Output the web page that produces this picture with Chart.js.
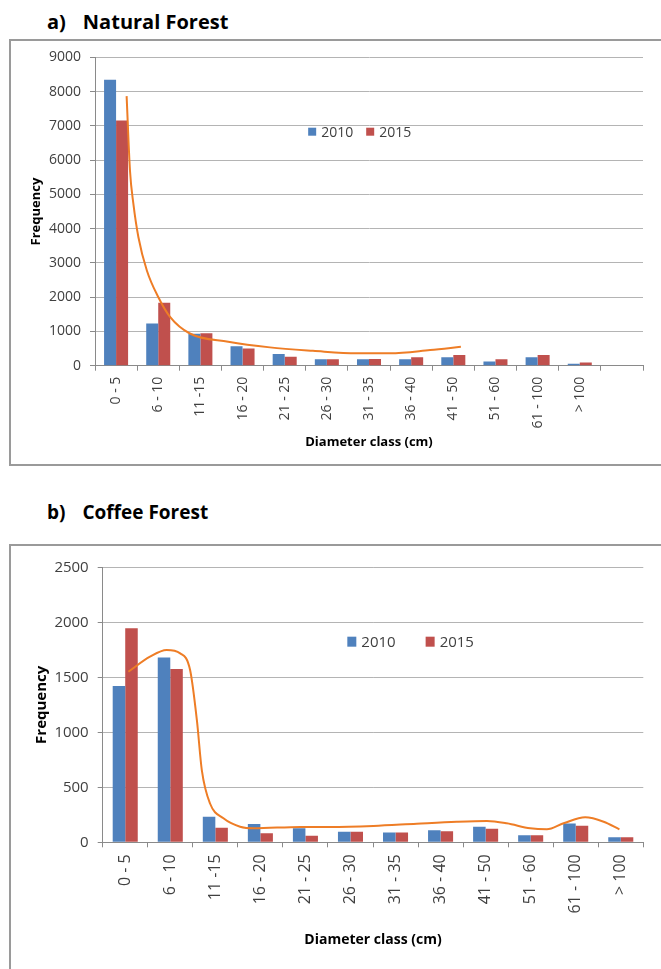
<!DOCTYPE html>
<html>
<head>
<meta charset="utf-8">
<script src="https://cdn.jsdelivr.net/npm/chart.js@4.4.1/dist/chart.umd.min.js"></script>
<style>
html,body{margin:0;padding:0;background:#fff;}
body{position:relative;width:661px;height:969px;overflow:hidden;font-family:"Open Sans",sans-serif;}
.title{position:absolute;left:47px;font-weight:700;font-size:20px;line-height:20px;color:#000;white-space:nowrap;}
.title span{margin-left:17px;}
.box{position:absolute;border:2px solid #9a9a9a;box-sizing:border-box;}
.cv{position:absolute;left:0;}
</style>
</head>
<body>
<div class="title" style="top:11.5px">a)<span>Natural Forest</span></div>
<div class="box" style="left:9px;top:39px;width:720px;height:427px"></div>
<div class="cv" style="top:40px;width:661px;height:425px"><canvas id="chartA"></canvas></div>

<div class="title" style="top:503px;font-size:19px;line-height:19px">b)<span>Coffee Forest</span></div>
<div class="box" style="left:9px;top:544px;width:720px;height:500px"></div>
<div class="cv" style="top:546px;width:661px;height:423px"><canvas id="chartB"></canvas></div>

<script>
// ---------- data ----------
const seriesNames = ['2010', '2015'];
const xTitle = 'Diameter class (cm)';
const yTitle = 'Frequency';

// a) Natural Forest
const naturalClasses = ['0 - 5','6 - 10','11 -15','16 - 20','21 - 25','26 - 30','31 - 35','36 - 40','41 - 50','51 - 60','61 - 100','> 100',''];
const natural2010 = [8350, 1230, 930, 570, 340, 190, 190, 185, 245, 120, 245, 55, null];
const natural2015 = [7160, 1840, 950, 505, 262, 190, 195, 244, 312, 190, 315, 95, null];
// trend line (position in category units, value)
const naturalTrendPos = [0.25, 0.33, 0.41, 0.53, 0.73, 1.0, 1.28, 1.75, 2.66, 3.65, 4.67, 5.71, 6.50, 7.45, 8.18];
const naturalTrendVal = [7870, 5690, 4730, 3750, 2780, 2005, 1425, 940, 700, 535, 435, 360, 360, 455, 550];
const naturalYTicks = {max: 9000, step: 1000};

// b) Coffee Forest
const coffeeClasses = ['0 - 5','6 - 10','11 -15','16 - 20','21 - 25','26 - 30','31 - 35','36 - 40','41 - 50','51 - 60','61 - 100','> 100'];
const coffee2010 = [1420, 1680, 233, 166, 127, 97, 88, 109, 142, 64, 170, 45];
const coffee2015 = [1945, 1575, 133, 82, 60, 97, 88, 100, 124, 64, 151, 45];
const coffeeTrendPos = [0.07, 0.55, 0.92, 1.22, 1.44, 1.59, 1.70, 1.88, 2.18, 2.55, 2.85, 3.89, 4.55, 5.51, 6.47, 7.36, 8.03, 8.47, 8.99, 9.36, 9.73, 10.21, 10.62, 10.97];
const coffeeTrendVal = [1550, 1687, 1748, 1718, 1566, 1112, 657, 355, 218, 142, 127, 140, 138, 148, 169, 187, 194, 173, 127, 118, 173, 227, 187, 118];
const coffeeYTicks = {max: 2500, step: 500};

// ---------- style ----------
const BLUE = '#4F81BD', RED = '#C0504D', ORANGE = '#EE7D26';
const GRID = '#b4b4b4', AXIS = '#8a8a8a', TXT = '#404040';
Chart.defaults.font.family = '"Open Sans", sans-serif';

const insideLegend = {
  id: 'insideLegend',
  afterDatasetsDraw(chart, args, o) {
    const {ctx, chartArea: a} = chart;
    let x = a.left + o.fx * (a.right - a.left);
    const y = a.top + o.fy * (a.bottom - a.top);
    ctx.save();
    ctx.font = o.size + 'px "Open Sans", sans-serif';
    ctx.textBaseline = 'middle';
    ctx.textAlign = 'left';
    chart.data.datasets.filter(d => d.type !== 'line').forEach(d => {
      ctx.fillStyle = d.backgroundColor;
      ctx.fillRect(x, y - o.boxH / 2, o.boxW, o.boxH);
      x += o.boxW + o.boxGap;
      ctx.fillStyle = o.color;
      ctx.fillText(d.label, x, y + 1);
      x += ctx.measureText(d.label).width + o.itemGap;
    });
    ctx.restore();
  }
};

function makeChart(id, cfg) {
  // trend points in category-index units on the same category axis (unparsed, so fractions are kept)
  const trend = cfg.trendPos.map((p, i) => ({x: p, y: cfg.trendVal[i]}));
  return new Chart(document.getElementById(id), {
    type: 'bar',
    plugins: [insideLegend],
    data: {
      labels: cfg.labels,
      datasets: [
        {label: seriesNames[0], data: cfg.s1, backgroundColor: BLUE, order: 2,
         categoryPercentage: cfg.catPct, barPercentage: 1},
        {label: seriesNames[1], data: cfg.s2, backgroundColor: RED, order: 2,
         categoryPercentage: cfg.catPct, barPercentage: 1},
        {type: 'line', label: 'trend', data: trend, parsing: false,
         borderColor: ORANGE, borderWidth: 2, pointRadius: 0, fill: false,
         cubicInterpolationMode: 'monotone', order: 1}
      ]
    },
    options: {
      responsive: true, maintainAspectRatio: false, animation: false,
      layout: {padding: {top: cfg.padTop, right: cfg.padRight, left: 0, bottom: 0}},
      plugins: {
        legend: {display: false}, tooltip: {enabled: false},
        insideLegend: cfg.legend
      },
      scales: {
        x: {
          type: 'category', offset: true,
          grid: {offset: true, drawOnChartArea: false, drawTicks: true, tickLength: 5, tickColor: AXIS},
          border: {color: AXIS, width: 1},
          ticks: {autoSkip: false, minRotation: 90, maxRotation: 90, padding: cfg.xPad, color: TXT,
                  font: {size: cfg.xFont}},
          title: {display: true, text: xTitle, color: '#000',
                  font: {size: cfg.xTitleFont, weight: 'bold'}, padding: {top: 0, bottom: cfg.xTitlePad}},
          afterFit(s) { s.height = cfg.xHeight; }
        },
        y: {
          min: 0, max: cfg.yTicks.max,
          ticks: {stepSize: cfg.yTicks.step, padding: cfg.yPad, color: TXT, font: {size: cfg.yFont},
                  callback: v => String(v)},
          grid: {color: GRID, tickLength: 5, tickColor: AXIS},
          border: {color: AXIS, width: 1},
          title: {display: true, text: yTitle, color: '#000',
                  font: {size: cfg.yTitleFont, weight: 'bold'}, padding: {top: cfg.yTitlePad, bottom: 0}},
          afterFit(s) { s.width = cfg.yWidth; }
        }
      }
    }
  });
}

makeChart('chartA', {
  labels: naturalClasses, s1: natural2010, s2: natural2015,
  trendPos: naturalTrendPos, trendVal: naturalTrendVal, yTicks: naturalYTicks,
  catPct: 0.57, padTop: 16, padRight: 18, xHeight: 99.3, yWidth: 95,
  xPad: 6, yPad: 9, xFont: 14, yFont: 14, xTitleFont: 13, yTitleFont: 13,
  xTitlePad: 15, yTitlePad: 28,
  legend: {fx: 0.389, fy: 0.241, size: 14, boxW: 8, boxH: 8, boxGap: 5, itemGap: 13, color: TXT}
});

makeChart('chartB', {
  labels: coffeeClasses, s1: coffee2010, s2: coffee2015,
  trendPos: coffeeTrendPos, trendVal: coffeeTrendVal, yTicks: coffeeYTicks,
  catPct: 0.556, padTop: 21.3, padRight: 17.7, xHeight: 126.7, yWidth: 102.7,
  xPad: 7, yPad: 9, xFont: 16, yFont: 15, xTitleFont: 14, yTitleFont: 15,
  xTitlePad: 20.6, yTitlePad: 33,
  legend: {fx: 0.4525, fy: 0.2705, size: 15, boxW: 9, boxH: 10, boxGap: 5, itemGap: 30, color: TXT}
});
</script>
</body>
</html>
